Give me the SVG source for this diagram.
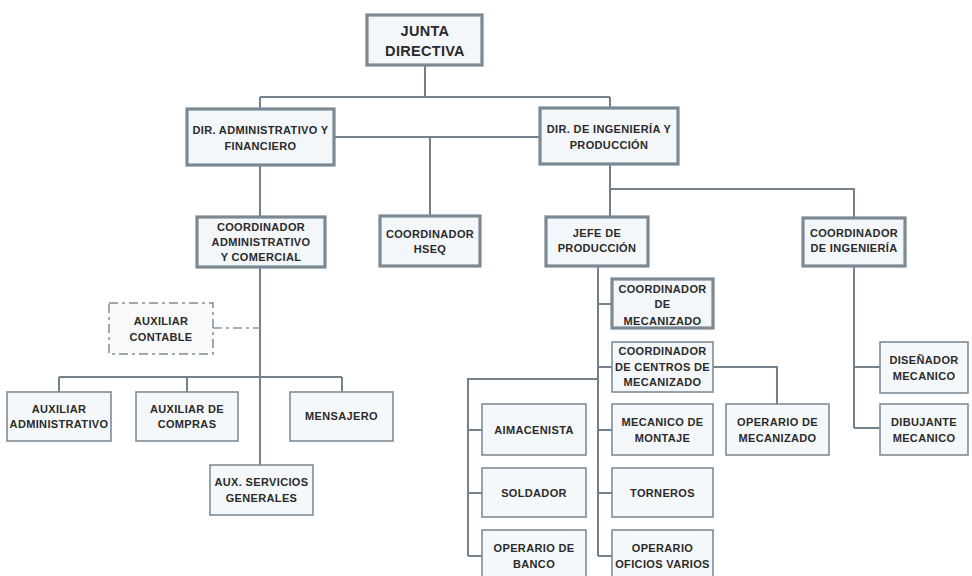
<svg xmlns="http://www.w3.org/2000/svg" width="972" height="576" viewBox="0 0 972 576">
<style>
.b{fill:#f5f8fb;stroke:#7f8d98;stroke-width:1.6}
.k{fill:#f3f7fa;stroke:#7a8994;stroke-width:3.2}
.d{fill:#f7f9fb;stroke:#7f8d98;stroke-width:1.5;stroke-dasharray:9 4 3 4}
text{font-family:"Liberation Sans",Arial,sans-serif;font-weight:bold;font-size:11px;fill:#2a2a2a;text-anchor:middle;letter-spacing:0.35px}
.t{font-size:14.5px;letter-spacing:0.3px}
.c path{fill:none;stroke:#72818c;stroke-width:2}
.c .dl{stroke:#8a98a2;stroke-dasharray:9 4 3 4;stroke-width:1.6}
</style>
<rect width="972" height="576" fill="#ffffff"/>
<g class="c" id="connectors">
<path d="M425 65V97M260 97H610M260 97V109M610 97V108"/>
<path d="M334 137H540M430 137V216"/>
<path d="M260 165V217M260 267V465"/>
<path class="dl" d="M213 328H260"/>
<path d="M59 377H342M59 377V392M187 377V392M342 377V392"/>
<path d="M610 164V217M610 189H854V218"/>
<path d="M598 266V556M598 304H612M598 367H612M598 430H612M598 493H612M598 556H612"/>
<path d="M713 367H777V404"/>
<path d="M598 379H468V556M468 430H482M468 493H482M468 556H482"/>
<path d="M854 266V428M854 367H880M854 428H880"/>
</g>
<g id="junta"><rect class="k" x="367" y="15" width="115" height="50"/><text class="t" x="425" y="36">JUNTA</text><text class="t" x="425" y="56">DIRECTIVA</text></g>
<g id="dirAdm"><rect class="k" x="187" y="109" width="147" height="56"/><text x="260.5" y="134">DIR. ADMINISTRATIVO Y</text><text x="260.5" y="150">FINANCIERO</text></g>
<g id="dirIng"><rect class="k" x="540" y="108" width="138" height="56"/><text x="609" y="133">DIR. DE INGENIERÍA Y</text><text x="609" y="149">PRODUCCIÓN</text></g>
<g id="coordAdm"><rect class="k" x="197" y="217" width="128" height="50"/><text x="261" y="231">COORDINADOR</text><text x="261" y="246">ADMINISTRATIVO</text><text x="261" y="261">Y COMERCIAL</text></g>
<g id="hseq"><rect class="k" x="380" y="216" width="100" height="50"/><text x="430" y="238">COORDINADOR</text><text x="430" y="253">HSEQ</text></g>
<g id="jefe"><rect class="k" x="546" y="217" width="102" height="49"/><text x="597" y="237">JEFE DE</text><text x="597" y="252">PRODUCCIÓN</text></g>
<g id="coordIng"><rect class="k" x="803" y="218" width="102" height="48"/><text x="854" y="237">COORDINADOR</text><text x="854" y="252">DE INGENIERÍA</text></g>
<g id="coordMec"><rect class="k" x="612" y="279" width="101" height="49"/><text x="662.5" y="293">COORDINADOR</text><text x="662.5" y="308">DE</text><text x="662.5" y="325">MECANIZADO</text></g>
<g id="coordCentros"><rect class="b" x="612" y="342" width="101" height="50"/><text x="662.5" y="355">COORDINADOR</text><text x="662.5" y="371">DE CENTROS DE</text><text x="662.5" y="386">MECANIZADO</text></g>
<g id="operMec"><rect class="b" x="726" y="404" width="103" height="51"/><text x="777.5" y="426">OPERARIO DE</text><text x="777.5" y="442">MECANIZADO</text></g>
<g id="mecMontaje"><rect class="b" x="612" y="404" width="101" height="51"/><text x="662.5" y="426">MECANICO DE</text><text x="662.5" y="442">MONTAJE</text></g>
<g id="torneros"><rect class="b" x="612" y="468" width="101" height="49"/><text x="662.5" y="497">TORNEROS</text></g>
<g id="operOficios"><rect class="b" x="612" y="530" width="101" height="50"/><text x="662.5" y="552">OPERARIO</text><text x="662.5" y="568">OFICIOS VARIOS</text></g>
<g id="almacenista"><rect class="b" x="482" y="404" width="104" height="51"/><text x="534" y="434">AIMACENISTA</text></g>
<g id="soldador"><rect class="b" x="482" y="468" width="104" height="49"/><text x="534" y="497">SOLDADOR</text></g>
<g id="operBanco"><rect class="b" x="482" y="530" width="104" height="50"/><text x="534" y="552">OPERARIO DE</text><text x="534" y="568">BANCO</text></g>
<g id="disenador"><rect class="b" x="880" y="342" width="88" height="51"/><text x="924" y="364">DISEÑADOR</text><text x="924" y="380">MECANICO</text></g>
<g id="dibujante"><rect class="b" x="880" y="404" width="88" height="51"/><text x="924" y="426">DIBUJANTE</text><text x="924" y="442">MECANICO</text></g>
<g id="auxContable"><rect class="d" x="109" y="303" width="104" height="51"/><text x="161" y="325">AUXILIAR</text><text x="161" y="341">CONTABLE</text></g>
<g id="auxAdmin"><rect class="b" x="7" y="392" width="104" height="49"/><text x="59" y="413">AUXILIAR</text><text x="59" y="428">ADMINISTRATIVO</text></g>
<g id="auxCompras"><rect class="b" x="136" y="392" width="102" height="49"/><text x="187" y="413">AUXILIAR DE</text><text x="187" y="428">COMPRAS</text></g>
<g id="mensajero"><rect class="b" x="290" y="392" width="103" height="49"/><text x="341.5" y="420">MENSAJERO</text></g>
<g id="auxServ"><rect class="b" x="210" y="465" width="103" height="50"/><text x="261.5" y="486">AUX. SERVICIOS</text><text x="261.5" y="502">GENERALES</text></g>
</svg>
